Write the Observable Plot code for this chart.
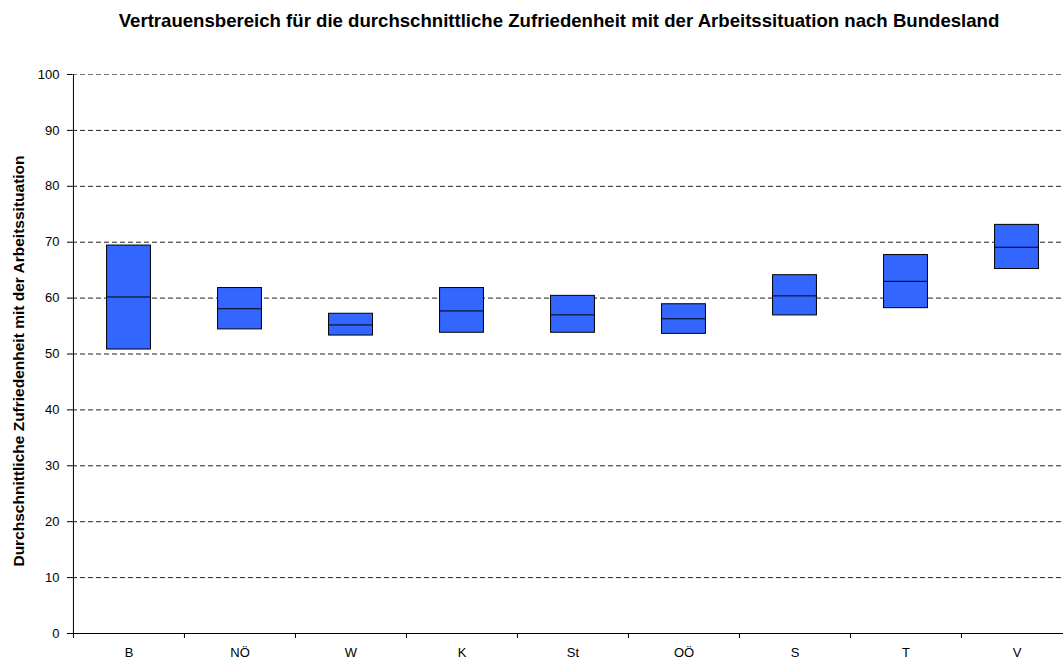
<!DOCTYPE html>
<html>
<head>
<meta charset="utf-8">
<script src="https://cdn.jsdelivr.net/npm/d3@7"></script>
<script src="https://cdn.jsdelivr.net/npm/@observablehq/plot@0.6"></script>
<style>
  html, body { margin: 0; padding: 0; background: #fff; overflow: hidden; }
  #wrap { position: relative; width: 1063px; height: 661px; font-family: "Liberation Sans", Arial, sans-serif; }
  #title { position: absolute; top: 12px; left: 559px; transform: translateX(-50%); white-space: nowrap;
           font-size: 18.6px; line-height: 18px; font-weight: bold; color: #000; }
  #ylabel { position: absolute; left: 18px; top: 361px; transform: translate(-50%, -50%) rotate(-90deg);
            white-space: nowrap; font-size: 15.5px; line-height: 15px; font-weight: bold; color: #000; }
  #chart { position: absolute; top: 40px; left: 0; }
</style>
</head>
<body>
<div id="wrap">
  <div id="chart"></div>
  <div id="title">Vertrauensbereich für die durchschnittliche Zufriedenheit mit der Arbeitssituation nach Bundesland</div>
  <div id="ylabel">Durchschnittliche Zufriedenheit mit der Arbeitssituation</div>
</div>
<script>
const categories = ["B", "NÖ", "W", "K", "St", "OÖ", "S", "T", "V"];
const lower  = [50.8, 54.4, 53.3, 53.8, 53.8, 53.6, 56.9, 58.2, 65.2];
const mean   = [60.2, 58.1, 55.2, 57.7, 57.0, 56.3, 60.4, 63.0, 69.1];
const upper  = [69.4, 61.8, 57.2, 61.8, 60.4, 58.9, 64.1, 67.7, 73.1];
const yTicks = [0, 10, 20, 30, 40, 50, 60, 70, 80, 90, 100];

const data = categories.map((c, i) => ({cat: c, lo: lower[i], mid: mean[i], hi: upper[i]}));

const W = 1063, H = 621, mL = 72, mR = -9, mT = 34, mB = 28;
const bw = (W - mL - mR) / categories.length;
const inset = (bw - 44) / 2;

const chart = Plot.plot({
  width: W,
  height: H,
  marginLeft: mL,
  marginRight: mR,
  marginTop: mT,
  marginBottom: mB,
  style: {fontFamily: "'Liberation Sans', Arial, sans-serif", fontSize: "13px", color: "#000", overflow: "hidden"},
  x: {type: "band", domain: categories, padding: 0, label: null},
  y: {domain: [0, 100], label: null},
  marks: [
    Plot.ruleY(yTicks.filter(d => d > 0 && d < 100), {stroke: "#222", strokeWidth: 1, strokeDasharray: "5,3"}),
    Plot.ruleY([100], {stroke: "#777", strokeWidth: 1.2, strokeDasharray: "5,3"}),
    Plot.barY(data, {x: "cat", y1: "lo", y2: "hi", fill: "#3366FF", stroke: "#000", strokeWidth: 1,
                     insetLeft: inset, insetRight: inset}),
    Plot.tickY(data, {x: "cat", y: "mid", stroke: "#000", strokeWidth: 1, insetLeft: inset, insetRight: inset}),
    Plot.axisY({ticks: yTicks, tickSize: 5, tickPadding: 8, fontSize: 13, label: null, stroke: "#000"}),
    Plot.axisX({tickSize: 0, tickPadding: 14, fontSize: 13, label: null}),
    Plot.ruleX(categories, {x: d => d, y1: 0, y2: 0, dx: -bw / 2, insetBottom: -5, stroke: "#000"}),
    Plot.ruleY([0], {stroke: "#000"}),
    Plot.ruleX([0], {x: () => categories[0], dx: -bw / 2, y1: 0, y2: 100, stroke: "#000"})
  ]
});
document.getElementById("chart").appendChild(chart);
</script>
</body>
</html>
